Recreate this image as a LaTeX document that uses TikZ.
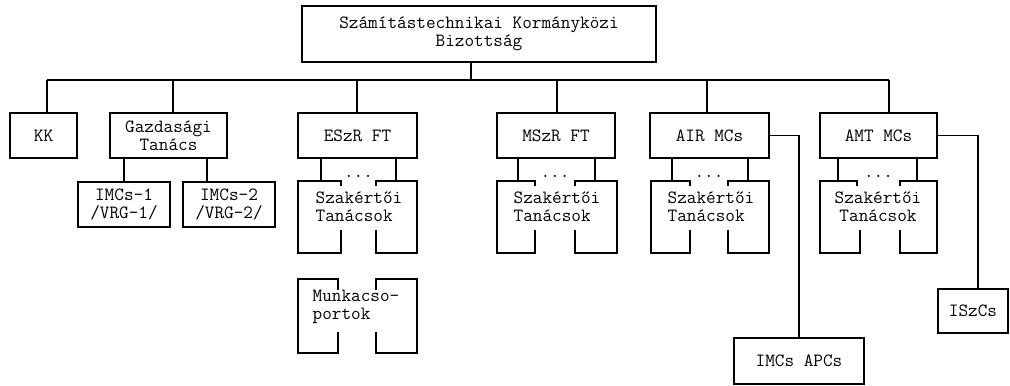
\documentclass[tikz,border=0pt]{standalone}
\usepackage{fontspec}
\tikzset{
  every node/.style={font=\fontsize{13.3}{12.8}\selectfont\ttfamily, inner sep=1pt},
  orgbox/.style={draw, line width=1.3pt, minimum height=1.13cm},
}
\begin{document}
\begin{tikzpicture}[x=0.025cm,y=-0.025cm,line width=1.3pt]
\useasboundingbox (0,0) rectangle (1010,386);
% top level
\node[orgbox, minimum width=8.85cm, minimum height=1.4cm, align=center] (top) at (479,34) {Számítástechnikai Kormányközi\\Bizottság};
% second level
\node[orgbox, minimum width=1.68cm] (kk) at (43.5,135.5) {KK};
\node[orgbox, minimum width=2.93cm, align=center] (gt) at (168.5,135.5) {Gazdasági\\ Tanács};
\node[orgbox, minimum width=2.98cm] (esz) at (357.5,135.5) {ESzR FT};
\node[orgbox, minimum width=2.95cm] (msz) at (556,135.5) {MSzR FT};
\node[orgbox, minimum width=2.98cm] (air) at (709.5,135.5) {AIR MCs};
\node[orgbox, minimum width=2.93cm] (amt) at (878.5,135.5) {AMT MCs};
% bus
\coordinate (bt) at (471,80);
\coordinate (b1) at (47,80);
\coordinate (b2) at (173,80);
\coordinate (b3) at (357,80);
\coordinate (b4) at (557,80);
\coordinate (b5) at (707,80);
\coordinate (b6) at (889,80);
\draw (top.south -| bt) -- (bt);
\draw (b1) -- (b6);
\draw (b1) -- (b1 |- kk.north);
\draw (b2) -- (b2 |- gt.north);
\draw (b3) -- (b3 |- esz.north);
\draw (b4) -- (b4 |- msz.north);
\draw (b5) -- (b5 |- air.north);
\draw (b6) -- (b6 |- amt.north);
% under Gazdasagi Tanacs
\node[orgbox, minimum width=2.3cm, align=center] (imc1) at (124,204.5) {IMCs-1\\/VRG-1/};
\node[orgbox, minimum width=2.3cm, align=center] (imc2) at (229,204.5) {IMCs-2\\/VRG-2/};
\coordinate (g2) at (207,182);
\draw (gt.south -| imc1.north) -- (imc1.north);
\draw (gt.south -| g2) -- (g2);
% expert councils
\node[align=left] (st1) at (359,207) {Szakértői\\Tanácsok};
\node (dt1) at (358.5,176) {...};
\draw (341,186) -- (341,181) -- (298,181) -- (298,253) -- (341,253) -- (341,230);
\draw (376,230) -- (376,253) -- (417,253) -- (417,181) -- (376,181) -- (376,186);
\coordinate (s1a) at (321,181);
\coordinate (s1b) at (396,181);
\draw (esz.south -| s1a) -- (s1a);
\draw (esz.south -| s1b) -- (s1b);

\node[align=left] (st2) at (557,207) {Szakértői\\Tanácsok};
\node (dt2) at (555,176) {...};
\draw (535,186) -- (535,181) -- (497,181) -- (497,253) -- (535,253) -- (535,230);
\draw (575,230) -- (575,253) -- (617,253) -- (617,181) -- (575,181) -- (575,186);
\coordinate (s2a) at (518,181);
\coordinate (s2b) at (595,181);
\draw (msz.south -| s2a) -- (s2a);
\draw (msz.south -| s2b) -- (s2b);

\node[align=left] (st3) at (711,207) {Szakértői\\Tanácsok};
\node (dt3) at (709,176) {...};
\draw (690,186) -- (690,181) -- (651,181) -- (651,253) -- (690,253) -- (690,230);
\draw (728,230) -- (728,253) -- (769,253) -- (769,181) -- (728,181) -- (728,186);
\coordinate (s3a) at (672,181);
\coordinate (s3b) at (748,181);
\draw (air.south -| s3a) -- (s3a);
\draw (air.south -| s3b) -- (s3b);

\node[align=center] (st4) at (878,207) {Szakértői\\Tanácsok};
\node (dt4) at (878.5,176) {...};
\draw (857,186) -- (857,181) -- (820,181) -- (820,253) -- (860,253) -- (860,230);
\draw (900,230) -- (900,253) -- (937,253) -- (937,181) -- (900,181) -- (900,186);
\coordinate (s4a) at (838,181);
\coordinate (s4b) at (917,181);
\draw (amt.south -| s4a) -- (s4a);
\draw (amt.south -| s4b) -- (s4b);
% working groups
\node[align=left] (wg) at (356,307) {Munkacso-\\portok};
\draw (338,290) -- (338,279) -- (298,279) -- (298,353) -- (338,353) -- (338,332);
\draw (376,332) -- (376,353) -- (417,353) -- (417,279) -- (376,279) -- (376,290);
% side branches
\node[orgbox, minimum width=3.25cm, minimum height=1.15cm] (apc) at (799,361) {IMCs APCs};
\node[orgbox, minimum width=1.75cm, minimum height=1.1cm] (isz) at (973,311) {ISzCs};
\coordinate (c2) at (978,0);
\draw (air.east) -| (apc.north);
\draw (amt.east) -| (c2 |- isz.north);
\end{tikzpicture}
\end{document}
